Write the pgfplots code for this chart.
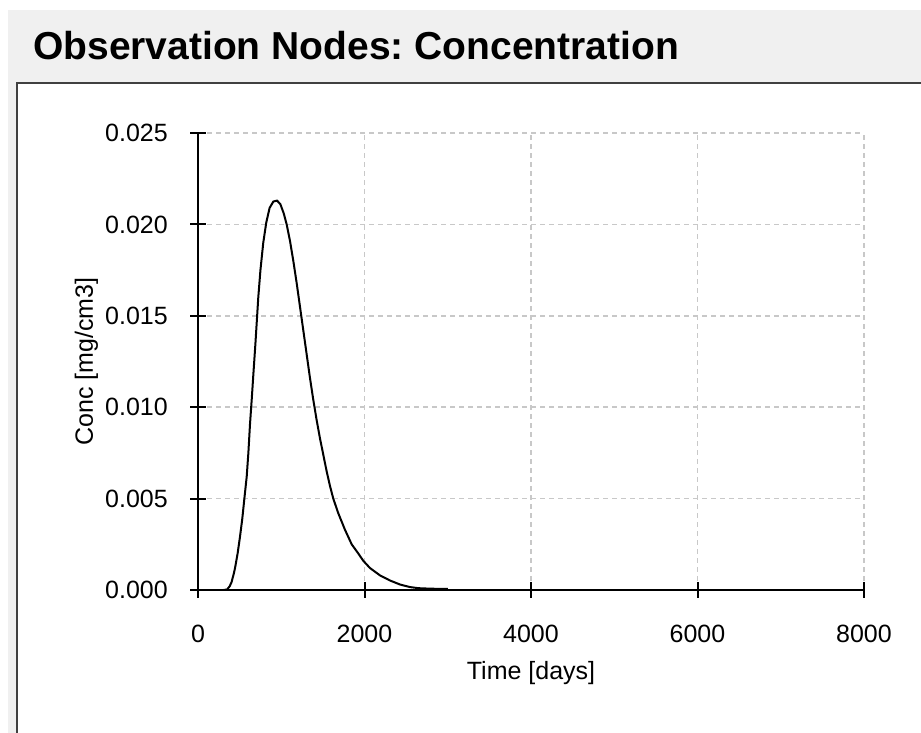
\documentclass[border=0pt]{standalone}
\usepackage{fontspec}
\setmainfont{Liberation Sans}
\usepackage{pgfplots}
\pgfplotsset{compat=1.18}
\definecolor{bggray}{HTML}{F0F0F0}
\definecolor{bordergray}{HTML}{404040}
\definecolor{gridgray}{HTML}{C8C8C8}
\frenchspacing
\begin{document}
\begin{tikzpicture}
\useasboundingbox (0,0) rectangle (921pt,733pt);
\fill[white] (0,0) rectangle (921pt,733pt);
\fill[bggray] (8pt,0) rectangle (921pt,723pt);
\fill[white] (16.5pt,0) rectangle (921pt,650pt);
\draw[bordergray, line width=2pt] (16.5pt,0) -- (16.5pt,650pt) -- (921pt,650pt);
\node[anchor=base west, inner sep=0pt, font=\fontsize{39}{46}\selectfont\bfseries] at (33pt,673.7pt) {Observation Nodes: Concentration};
\begin{axis}[
  at={(198pt,143pt)}, anchor=south west,
  scale only axis, width=666pt, height=457pt,
  xmin=0, xmax=8000, ymin=0, ymax=0.025,
  xtick={0,2000,4000,6000,8000},
  ytick={0,0.005,0.01,0.015,0.02,0.025},
  axis x line=bottom, axis y line=left,
  axis line style={-, black, line width=2pt},
  tick align=center, major tick length=16pt,
  tick style={black, line width=2pt},
  grid=major,
  major grid style={gridgray, line width=1.5pt, dash pattern=on 5pt off 4pt},
  /pgf/number format/assume math mode=true,
  /pgf/number format/1000 sep={},
  scaled y ticks=false,
  every tick label/.append style={font=\fontsize{25}{30}\selectfont, inner sep=0pt},
  xticklabel style={anchor=north, yshift=-27pt},
  yticklabel style={anchor=east, xshift=-22pt, /pgf/number format/fixed, /pgf/number format/fixed zerofill, /pgf/number format/precision=3},
  xlabel={Time [days]}, ylabel={Conc [mg/cm3]},
  label style={font=\fontsize{25}{30}\selectfont, inner sep=0pt},
  xlabel style={at={(axis description cs:0.5,-0.1969)}, anchor=base},
  ylabel style={at={(axis description cs:-0.1577,0.5)}, anchor=base},
]
\addplot[black, line width=2pt] coordinates {
(310,0) (350,0.00003) (380,0.0002) (404,0.00044) (430,0.0009) (444,0.00118)
(476,0.0020) (504,0.0029) (532,0.0039) (557,0.0050) (585,0.0062) (605,0.0075)
(625,0.0091) (645,0.0104) (665,0.0118) (690,0.0135) (724,0.0160) (750,0.0175)
(784,0.0190) (820,0.0201) (860,0.0209) (905,0.02125) (950,0.0213) (990,0.0211)
(1030,0.0206) (1065,0.0200) (1105,0.0191) (1145,0.0180) (1185,0.0168) (1225,0.0155)
(1265,0.0142) (1305,0.0129) (1345,0.0116) (1385,0.0104) (1425,0.0093) (1465,0.0083)
(1505,0.0074) (1545,0.0065) (1585,0.0057) (1625,0.0050) (1685,0.0042) (1765,0.0033)
(1846,0.0025) (1925,0.0020) (1985,0.0016) (2066,0.0012) (2186,0.0008) (2306,0.00052)
(2426,0.0003) (2546,0.00016) (2646,0.0001) (2800,0.00007) (3000,0.00006)
};
\end{axis}
\end{tikzpicture}
\end{document}
